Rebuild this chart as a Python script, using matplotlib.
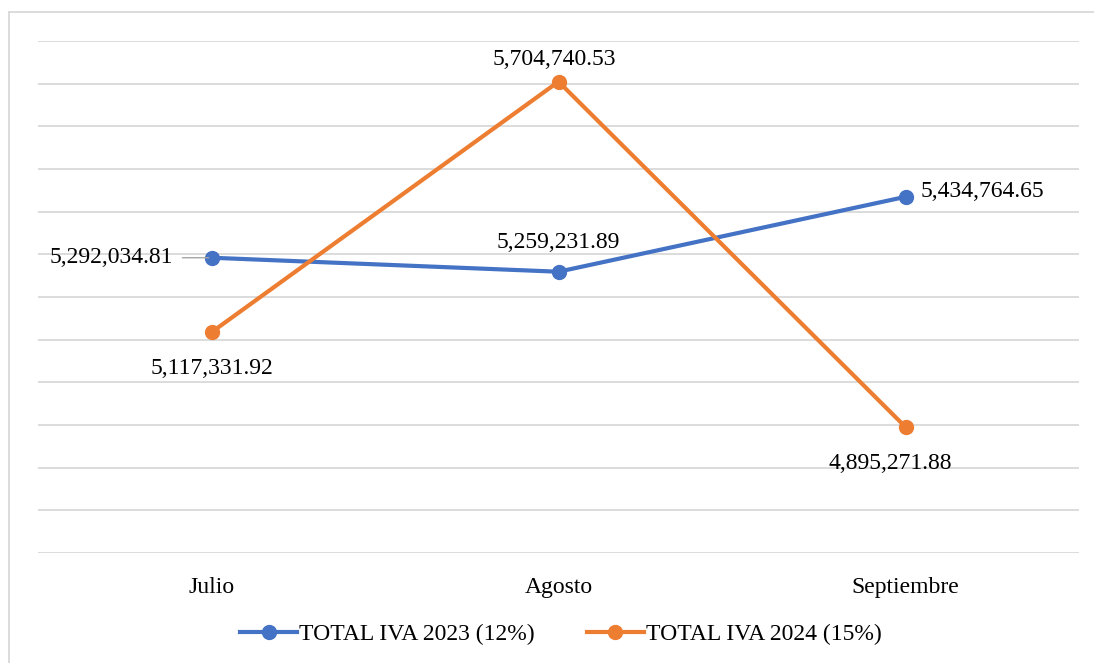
import matplotlib.pyplot as plt
from matplotlib.lines import Line2D

meses = ['Julio', 'Agosto', 'Septiembre']
iva_2023 = [5292034.81, 5259231.89, 5434764.65]
iva_2024 = [5117331.92, 5704740.53, 4895271.88]
etiquetas = ['TOTAL IVA 2023 (12%)', 'TOTAL IVA 2024 (15%)']

azul = '#4472C4'
naranja = '#ED7D31'

plt.rcParams['font.family'] = ['Liberation Serif', 'DejaVu Serif']

W, H = 1094, 663
fig = plt.figure(figsize=(W / 100, H / 100), dpi=100)
ax = fig.add_axes([38 / W, 1 - 553 / H, (1079 - 38) / W, (553 - 41) / H])

x = list(range(len(meses)))
ax.plot(x, iva_2023, color=azul, lw=3, marker='o', ms=10, zorder=3)
ax.plot(x, iva_2024, color=naranja, lw=3, marker='o', ms=10, zorder=3)

ax.set_xlim(-0.5, 2.5)
ax.set_ylim(4600000, 5800000)
ax.set_yticks([4600000 + i * 100000 for i in range(13)])
ax.yaxis.grid(True, color='#D9D9D9', lw=1.3)
ax.set_axisbelow(True)
ax.tick_params(axis='y', left=False, labelleft=False)
ax.tick_params(axis='x', bottom=False, labelsize=17, pad=14)
ax.set_xticks(x)
ax.set_xticklabels(meses)
for s in ax.spines.values():
    s.set_visible(False)

fmt = lambda v: f'{v:,.2f}'
fs = 17
# etiquetas 2023
ax.annotate(fmt(iva_2023[0]), (0, iva_2023[0]), xytext=(-28, 0), textcoords='offset points',
            ha='right', va='center', fontsize=fs,
            arrowprops=dict(arrowstyle='-', color='#A6A6A6', lw=1, shrinkA=5, shrinkB=2))
ax.annotate(fmt(iva_2023[1]), (1, iva_2023[1]), xytext=(0, 21), textcoords='offset points',
            ha='center', va='center', fontsize=fs)
ax.annotate(fmt(iva_2023[2]), (2, iva_2023[2]), xytext=(11, 4), textcoords='offset points',
            ha='left', va='center', fontsize=fs)
# etiquetas 2024
ax.annotate(fmt(iva_2024[0]), (0, iva_2024[0]), xytext=(0, -26), textcoords='offset points',
            ha='center', va='center', fontsize=fs)
ax.annotate(fmt(iva_2024[1]), (1, iva_2024[1]), xytext=(-3, 16), textcoords='offset points',
            ha='center', va='center', fontsize=fs)
ax.annotate(fmt(iva_2024[2]), (2, iva_2024[2]), xytext=(-11, -26), textcoords='offset points',
            ha='center', va='center', fontsize=fs)

handles = [Line2D([], [], color=c, lw=3, marker='o', ms=10) for c in (azul, naranja)]
fig.legend(handles, etiquetas, loc='center', bbox_to_anchor=(561 / W, 1 - 634 / H), ncol=2,
           frameon=False, fontsize=fs, handlelength=2.4, handletextpad=0.1,
           columnspacing=2.2, borderpad=0, borderaxespad=0)

# marco del gráfico
fig.add_artist(Line2D([9 / W, 1], [1 - 12 / H] * 2, color='#D9D9D9', lw=1.3))
fig.add_artist(Line2D([9 / W] * 2, [0, 1 - 12 / H], color='#D9D9D9', lw=1.3))

fig.savefig('out.png', dpi=100)
